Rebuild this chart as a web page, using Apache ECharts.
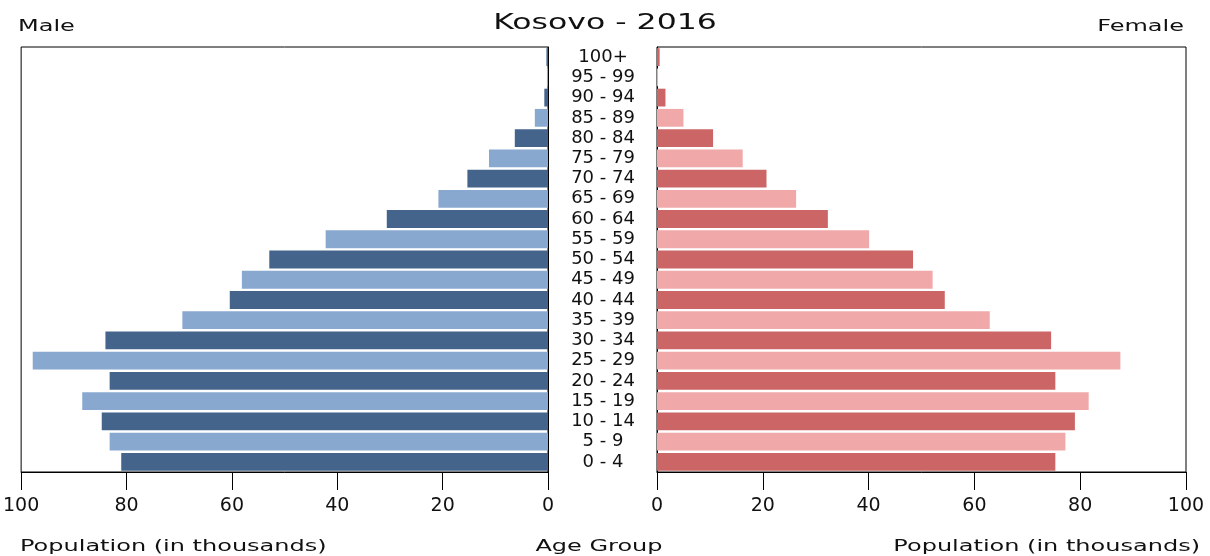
<!DOCTYPE html>
<html>
<head>
<meta charset="utf-8">
<title>Kosovo - 2016</title>
<script src="https://cdn.jsdelivr.net/npm/echarts@6/dist/echarts.min.js"></script>
<style>
  html, body { margin: 0; padding: 0; background: #fff; }
  #chart { width: 1210px; height: 556px; }
</style>
</head>
<body>
<div id="chart"></div>
<script>
// age groups, bottom to top
var ageGroups = ['0 - 4', '5 - 9', '10 - 14', '15 - 19', '20 - 24', '25 - 29', '30 - 34',
  '35 - 39', '40 - 44', '45 - 49', '50 - 54', '55 - 59', '60 - 64', '65 - 69', '70 - 74',
  '75 - 79', '80 - 84', '85 - 89', '90 - 94', '95 - 99', '100+']
// population in thousands
var maleValues = [81.0, 83.2, 84.7, 88.4, 83.2, 97.8, 84.0, 69.4, 60.4, 58.1, 52.9,
  42.2, 30.6, 20.8, 15.3, 11.2, 6.3, 2.5, 0.7, 0.2, 0.3]
var femaleValues = [75.3, 77.2, 79.0, 81.6, 75.3, 87.6, 74.5, 62.9, 54.4, 52.1, 48.4,
  40.1, 32.3, 26.3, 20.7, 16.2, 10.6, 5.0, 1.6, 0.2, 0.5]
var popTicks = [0, 20, 40, 60, 80, 100]

var FONT = 'DejaVu Sans'
var chart = echarts.init(document.getElementById('chart'))

// dark / light stripes alternate by row
function stripe (dark, light) {
  return function (p) {
    return p.dataIndex % 2 === 0 ? dark : light
  }
}

function popAxis (gridIndex, inverse) {
  return {
    type: 'value',
    gridIndex: gridIndex,
    inverse: inverse,
    min: popTicks[0],
    max: popTicks[popTicks.length - 1],
    interval: popTicks[1] - popTicks[0],
    axisLine: { show: true, lineStyle: { color: '#000', width: 1 } },
    axisTick: { show: true, length: 18, lineStyle: { color: '#000', width: 1 } },
    axisLabel: { color: '#111', fontFamily: FONT, fontSize: 19, margin: 25 },
    splitLine: { show: false }
  }
}

// the original text is drawn wide, so stretch the free labels sideways
function label (text, x, y, size, align) {
  return {
    type: 'text',
    x: x,
    y: y,
    scaleX: 1.5,
    style: {
      text: text,
      font: size + 'px "DejaVu Sans"',
      fill: '#111',
      textAlign: align,
      textVerticalAlign: 'middle'
    }
  }
}

var option = {
  animation: false,
  grid: [
    { left: 19, right: 662, top: 47, bottom: 84, show: true, borderColor: '#000', borderWidth: 1 },
    { left: 657, right: 24, top: 47, bottom: 84, show: true, borderColor: '#000', borderWidth: 1 }
  ],
  xAxis: [popAxis(0, true), popAxis(1, false)],
  yAxis: [
    {
      type: 'category',
      gridIndex: 0,
      position: 'right',
      data: ageGroups,
      axisLine: { show: true, lineStyle: { color: '#000' } },
      axisTick: { show: false },
      axisLabel: { interval: 0, color: '#111', fontFamily: FONT, fontSize: 18, align: 'center', margin: 55 }
    },
    {
      type: 'category',
      gridIndex: 1,
      data: ageGroups,
      axisLine: { show: true, lineStyle: { color: '#000' } },
      axisTick: { show: false },
      axisLabel: { show: false }
    }
  ],
  series: [
    {
      name: 'Male',
      type: 'bar',
      xAxisIndex: 0,
      yAxisIndex: 0,
      barCategoryGap: '12%',
      itemStyle: { color: stripe('#45648c', '#88a8d0') },
      data: maleValues
    },
    {
      name: 'Female',
      type: 'bar',
      xAxisIndex: 1,
      yAxisIndex: 1,
      barCategoryGap: '12%',
      itemStyle: { color: stripe('#cc6666', '#f0a8a8') },
      data: femaleValues
    }
  ],
  graphic: [
    label('Kosovo - 2016', 605, 24, 21, 'center'),
    label('Male', 18, 27, 16, 'left'),
    label('Female', 1184, 27, 16, 'right'),
    label('Population (in thousands)', 20, 547, 16, 'left'),
    label('Age Group', 599, 547, 16, 'center'),
    label('Population (in thousands)', 1200, 547, 16, 'right')
  ]
}

chart.setOption(option)
</script>
</body>
</html>
